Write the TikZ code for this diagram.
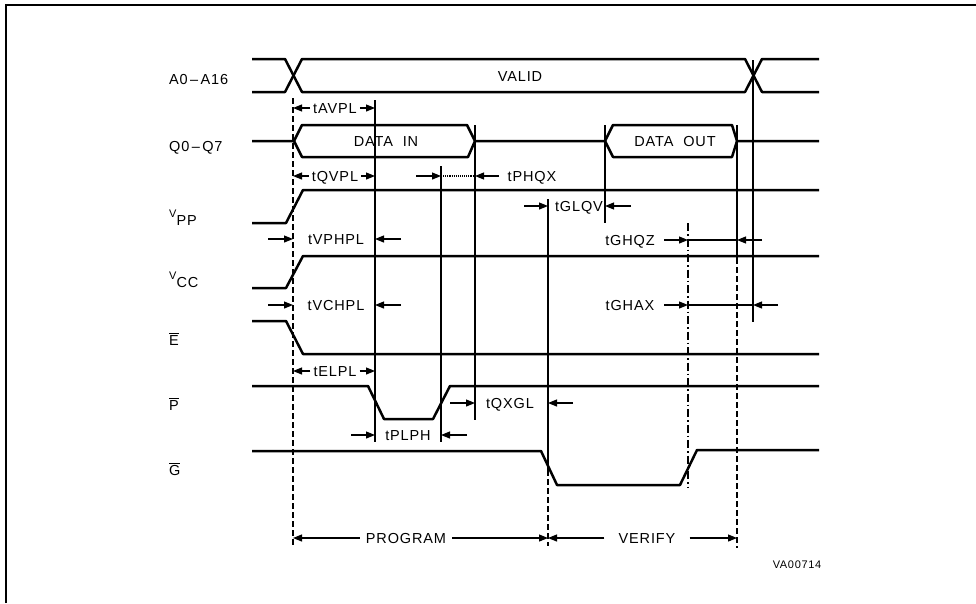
\documentclass[tikz,border=0pt]{standalone}
\usepackage{fontspec}
\setmainfont[LetterSpace=6]{Liberation Sans}
\usetikzlibrary{arrows.meta, calc}
\def\vpp{\raisebox{8pt}{\fontsize{11}{11}\selectfont V}PP}
\def\vcc{\raisebox{8pt}{\fontsize{11}{11}\selectfont V}CC}
\def\negsig#1{$\overline{\mbox{#1}}$}

\begin{document}
\begin{tikzpicture}[x=1pt, y=-1pt, font=\fontsize{14.5}{17}\selectfont,
	wave/.style={line width=2.5pt, line join=round},
	refline/.style={line width=1.1pt},
	cut/.style={dash pattern=on 6pt off 3pt},
	dimline/.style={line width=1.1pt, -{Triangle[length=9pt, width=7pt]}},
	lbl/.style={inner xsep=3pt, inner ysep=2pt, text height=10.5pt, text depth=0pt},
	sname/.style={inner sep=0pt, anchor=base west}]
	\useasboundingbox (0,0) rectangle (976,603);
	\draw[line width=1.3pt] (6,603) -- (6,5) -- (976,5);

	\coordinate (tav) at (293,0);
	\coordinate (tpl) at (375,0);
	\coordinate (tph) at (441,0);
	\coordinate (tqx) at (475,0);
	\coordinate (tgl) at (548,0);
	\coordinate (tqv) at (605,0);
	\coordinate (tgh) at (688,0);
	\coordinate (tqz) at (737,0);
	\coordinate (tax) at (753,0);

	\node[sname] (sa) at (169,84) {A0\,--\,A16};
	\node[sname] (sq) at (169,151) {Q0\,--\,Q7};
	\node[sname] (svpp) at (169,225) {\vpp};
	\node[sname] (svcc) at (169,287) {\vcc};
	\node[sname] (se) at (169,345) {\negsig{E}};
	\node[sname] (sp) at (169,410) {\negsig{P}};
	\node[sname] (sg) at (169,475) {\negsig{G}};

	\draw[wave] (252,59) -- (285,59) -- (302,92) -- (745,92) -- (762,59) -- (819,59);
	\draw[wave] (252,92) -- (285,92) -- (302,59) -- (745,59) -- (762,92) -- (819,92);
	\node[lbl] (valid) at (520,76) {VALID};

	\draw[wave] (252,141) -- (294,141) -- (302,125) -- (467,125) -- (475,141) -- (605,141) -- (613,125) -- (732,125) -- (737,141) -- (819,141);
	\draw[wave] (294,141) -- (302,157) -- (468,157) -- (475,141);
	\draw[wave] (605,141) -- (613,157) -- (732,157) -- (737,141);
	\node[lbl] (din) at (386,141) {DATA\ \ IN};
	\node[lbl] (dout) at (675,141) {DATA\ \ OUT};

	\draw[wave] (252,223) -- (286,223) -- (303,190) -- (819,190);
	\draw[wave] (252,288) -- (286,288) -- (303,256) -- (819,256);
	\draw[wave] (252,321) -- (286,321) -- (303,354) -- (819,354);
	\draw[wave] (252,386) -- (368,386) -- (384,419) -- (433,419) -- (450,386) -- (819,386);
	\draw[wave] (252,451) -- (541,451) -- (557,485) -- (680,485) -- (697,450) -- (819,450);

	\draw[refline, cut] (293,98) -- (293,546);
	\draw[refline] (375,100) -- (375,442);
	\draw[refline] (441,166) -- (441,442);
	\draw[refline] (475,125) -- (475,420);
	\draw[refline] (548,199) -- (548,470);
	\draw[refline, cut] (548,470) -- (548,546);
	\draw[refline] (605,125) -- (605,223);
	\draw[refline, dash pattern=on 8pt off 3pt on 1.5pt off 3pt] (688,223) -- (688,488);
	\draw[refline] (737,125) -- (737,258);
	\draw[refline, cut] (737,258) -- (737,548);
	\draw[refline] (753,60) -- (753,322);

	\node[lbl] (avpl) at (335,108) {tAVPL};
	\draw[dimline] (avpl.west) -- (avpl -| tav);
	\draw[dimline] (avpl.east) -- (avpl -| tpl);

	\node[lbl] (qvpl) at (335,176) {tQVPL};
	\draw[dimline] (qvpl.west) -- (qvpl -| tav);
	\draw[dimline] (qvpl.east) -- (qvpl -| tpl);

	\node[lbl] (phqx) at (532,176) {tPHQX};
	\draw[dimline] ($(phqx -| tph)-(25,0)$) -- (phqx -| tph);
	\draw[refline, densely dotted] (phqx -| tph) -- (phqx -| tqx);
	\draw[dimline] ($(phqx -| tqx)+(24,0)$) -- (phqx -| tqx);

	\node[lbl] (glqv) at (579,206) {tGLQV};
	\draw[dimline] ($(glqv -| tgl)-(24,0)$) -- (glqv -| tgl);
	\draw[dimline] ($(glqv -| tqv)+(26,0)$) -- (glqv -| tqv);

	\node[lbl] (vphpl) at (336,239) {tVPHPL};
	\draw[dimline] ($(vphpl -| tav)-(25,0)$) -- (vphpl -| tav);
	\draw[dimline] ($(vphpl -| tpl)+(26,0)$) -- (vphpl -| tpl);

	\node[lbl] (ghqz) at (630,240) {tGHQZ};
	\draw[dimline] ($(ghqz -| tgh)-(24,0)$) -- (ghqz -| tgh);
	\draw[refline] (ghqz -| tgh) -- (ghqz -| tqz);
	\draw[dimline] ($(ghqz -| tqz)+(25,0)$) -- (ghqz -| tqz);

	\node[lbl] (vchpl) at (336,305) {tVCHPL};
	\draw[dimline] ($(vchpl -| tav)-(25,0)$) -- (vchpl -| tav);
	\draw[dimline] ($(vchpl -| tpl)+(26,0)$) -- (vchpl -| tpl);

	\node[lbl] (ghax) at (630,305) {tGHAX};
	\draw[dimline] ($(ghax -| tgh)-(24,0)$) -- (ghax -| tgh);
	\draw[refline] (ghax -| tgh) -- (ghax -| tax);
	\draw[dimline] ($(ghax -| tax)+(25,0)$) -- (ghax -| tax);

	\node[lbl] (elpl) at (335,371) {tELPL};
	\draw[dimline] (elpl.west) -- (elpl -| tav);
	\draw[dimline] (elpl.east) -- (elpl -| tpl);

	\node[lbl] (qxgl) at (510,403) {tQXGL};
	\draw[dimline] ($(qxgl -| tqx)-(25,0)$) -- (qxgl -| tqx);
	\draw[dimline] ($(qxgl -| tgl)+(25,0)$) -- (qxgl -| tgl);

	\node[lbl] (plph) at (408,435) {tPLPH};
	\draw[dimline] ($(plph -| tpl)-(24,0)$) -- (plph -| tpl);
	\draw[dimline] ($(plph -| tph)+(26,0)$) -- (plph -| tph);

	\node[lbl, inner xsep=6pt] (program) at (406,538) {PROGRAM};
	\draw[dimline] (program.west) -- (program -| tav);
	\draw[dimline] (program.east) -- (program -| tgl);

	\node[lbl, inner xsep=14pt] (verify) at (647,538) {VERIFY};
	\draw[dimline] (verify.west) -- (verify -| tgl);
	\draw[dimline] (verify.east) -- (verify -| tqz);

	\node[font=\fontsize{11}{13}\selectfont] (fig) at (797,565) {VA00714};
\end{tikzpicture}
\end{document}
